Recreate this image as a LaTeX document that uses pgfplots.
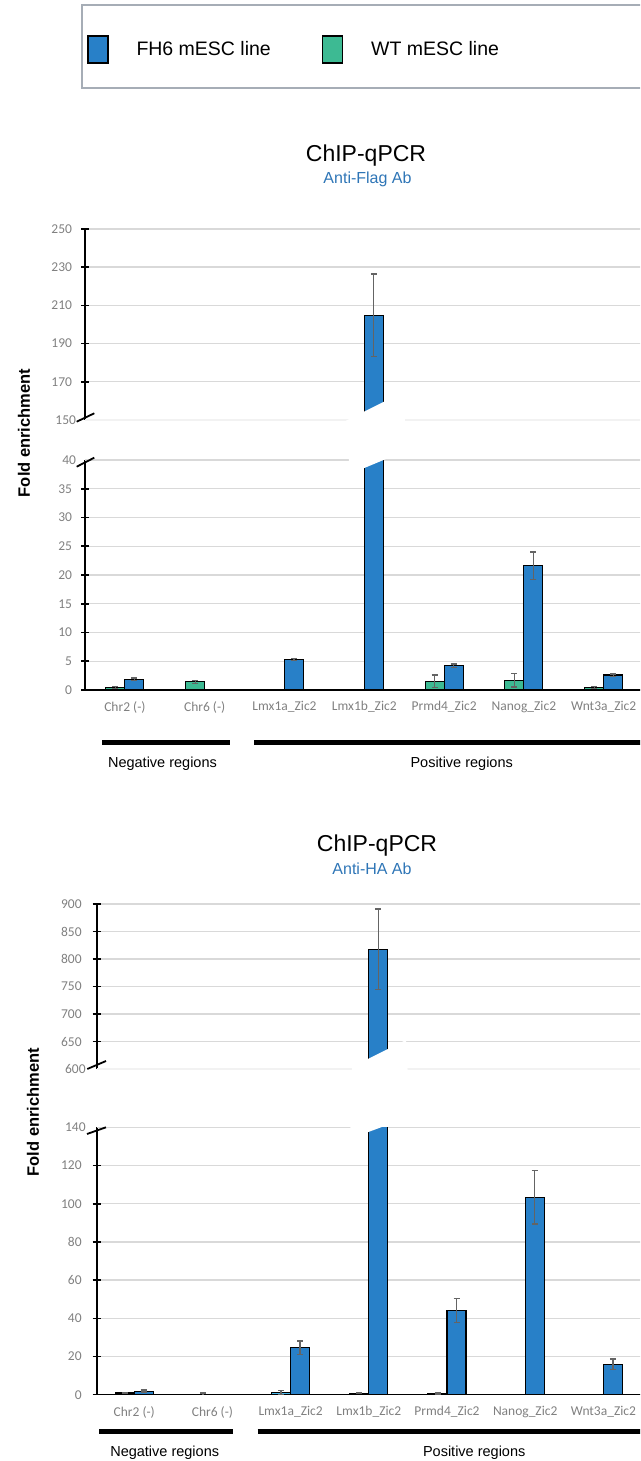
\documentclass[border=0pt]{standalone}
\usepackage{pgfplots}
\pgfplotsset{compat=1.18}
\usepackage{fontspec}
\setmainfont{Liberation Sans}
\newfontfamily\carlito{Carlito}
\definecolor{fhblue}{RGB}{40,128,200}
\definecolor{wtgreen}{RGB}{61,186,147}
\definecolor{wtcyan}{RGB}{70,182,232}
\definecolor{gridgray}{RGB}{217,217,217}
\definecolor{tickgray}{RGB}{128,128,128}
\definecolor{errgray}{RGB}{100,100,100}
\definecolor{subblue}{RGB}{46,117,182}
\definecolor{legendgray}{RGB}{166,173,182}
\pgfplotsset{
  brk/.style={
    scale only axis, anchor=south west,
    enlargelimits=false,
    axis y line*=left,
    tick align=center, major tick length=8pt,
    ytick style={black,line width=1.6pt},
    xtick style={draw=none},
    axis line style={black,line width=1.6pt},
    ymajorgrids, grid style={gridgray,line width=1.4pt},
    extra y tick style={grid=major, major tick length=0pt},
    yticklabel style={font=\carlito\fontsize{13.5}{14}\selectfont, text=tickgray, xshift=-5.5pt},
    xticklabel style={font=\carlito\fontsize{13.5}{14}\selectfont, text=tickgray},
    /pgf/number format/assume math mode=true,
    ybar, bar width=19pt,
    error bars/error bar style={errgray, line width=1.3pt},
    error bars/error mark options={rotate=90, mark size=3pt, errgray, line width=1.3pt},
  },
  wt/.style={fill=#1, draw=black, line width=1.1pt, bar shift=-9.5pt,
    error bars/y dir=both, error bars/y explicit},
  fh/.style={fill=fhblue, draw=black, line width=1.1pt, bar shift=9.5pt,
    error bars/y dir=both, error bars/y explicit},
}
\begin{document}
\begin{tikzpicture}[x=1pt,y=1pt]
\useasboundingbox (0,0) rectangle (640,1461);
\clip (0,0) rectangle (640,1461);

% legend frame
\draw[legendgray, line width=2pt] (82,1456) rectangle (662,1373);

% ---------- Chart 1 ----------
\node[anchor=base, font=\fontsize{23}{26}\selectfont] at (366,1299.3) {ChIP-qPCR};
\node[anchor=base, font=\fontsize{16}{18}\selectfont, text=subblue] at (367.5,1277.7) {Anti-Flag Ab};
\node[rotate=90, font=\bfseries\fontsize{16.5}{20}\selectfont] at (24,1028) {Fold enrichment};

\begin{axis}[brk, at={(85pt,1041pt)},
  x=79.8pt, y=1.91pt, xmin=-0.5, xmax=6.5, ymin=150, ymax=250,
  axis x line=none, xtick=\empty,
  ytick={170,190,...,250}, extra y ticks={150},
  extra y tick style={grid style={gridgray!35, line width=1.2pt}},
  legend columns=2,
  legend image code/.code={\draw[#1, draw=black, line width=1.3pt] (0pt,-13.5pt) rectangle (20pt,13.5pt);},
  legend style={at={(axis description cs:0.00358,1.94)}, anchor=west, draw=none, fill=none,
    inner sep=0pt, font=\fontsize{19.5}{22}\selectfont, nodes={inner sep=0pt},
    /tikz/every odd column/.append style={column sep=28pt},
    /tikz/every even column/.append style={column sep=51pt}},
  legend cell align=left,
]
\addlegendimage{fill=fhblue}
\addlegendentry{FH6 mESC line}
\addlegendimage{fill=wtgreen}
\addlegendentry{WT mESC line}
% only the value that reaches the upper segment
\addplot[forget plot, fh] coordinates {(3,204.8) +- (0,21.7)};
\end{axis}

\begin{axis}[brk, at={(85pt,771pt)},
  x=79.8pt, y=5.75pt, xmin=-0.5, xmax=6.5, ymin=0, ymax=40,
  axis x line*=bottom,
  ytick={0,5,...,35}, extra y ticks={40},
  xtick={0,...,6},
  xticklabels={Chr2 (-),Chr6 (-),Lmx1a\_Zic2,Lmx1b\_Zic2,Prmd4\_Zic2,Nanog\_Zic2,Wnt3a\_Zic2},
]
\addplot[wt=wtgreen] coordinates {
  (0,0.4) +- (0,0.2)  (1,1.4) +- (0,0.3)  (4,1.5) +- (0,1.1)  (5,1.7) +- (0,1.2)  (6,0.4) +- (0,0.15)};
\addplot[fh] coordinates {
  (0,1.9) +- (0,0.2)  (2,5.3) +- (0,0.2)  (3,204.8) +- (0,21.7)  (4,4.2) +- (0,0.3)  (5,21.6) +- (0,2.4)  (6,2.6) +- (0,0.2)};
\end{axis}

% break cover and marks chart 1
\fill[white] (346,1040.3) -- (402,1068.3) -- (408,1011.2) -- (350,987) -- cycle;
\draw[black, line width=1.8pt] (76.7,1039.3) -- (94.3,1047.7);
\draw[black, line width=1.8pt] (76.7,994.3) -- (94.3,1003.3);

\draw[line width=4.5pt] (102,718.3) -- (230,718.3);
\draw[line width=4.5pt] (254,718.3) -- (660,718.3);
\node[anchor=base, font=\fontsize{14.5}{17}\selectfont] at (162.5,693) {Negative regions};
\node[anchor=base, font=\fontsize{14.5}{17}\selectfont] at (461.7,693) {Positive regions};

% ---------- Chart 2 ----------
\node[anchor=base, font=\fontsize{23}{26}\selectfont] at (377,609) {ChIP-qPCR};
\node[anchor=base, font=\fontsize{16}{18}\selectfont, text=subblue] at (372,586) {Anti-HA Ab};
\node[rotate=90, font=\bfseries\fontsize{16.5}{20}\selectfont] at (33,349) {Fold enrichment};

\begin{axis}[brk, at={(96.7pt,392pt)},
  x=78.2pt, y=0.55pt, xmin=-0.48, xmax=6.5, ymin=600, ymax=900,
  axis x line=none, xtick=\empty,
  ytick={650,700,...,900}, extra y ticks={600},
  extra y tick style={grid style={gridgray!35, line width=1.2pt}},
  yticklabel style={xshift=-2pt},
]
% only the value that reaches the upper segment
\addplot[fh] coordinates {(3,818) +- (0,73)};
\end{axis}

\begin{axis}[brk, at={(96.7pt,66.3pt)},
  x=78.2pt, y=1.909pt, xmin=-0.48, xmax=6.5, ymin=0, ymax=140,
  axis x line*=bottom,
  ytick={0,20,...,120}, extra y ticks={140},
  yticklabel style={xshift=-2pt},
  xtick={0,...,6},
  xticklabels={Chr2 (-),Chr6 (-),Lmx1a\_Zic2,Lmx1b\_Zic2,Prmd4\_Zic2,Nanog\_Zic2,Wnt3a\_Zic2},
]
\addplot[wt=wtcyan] coordinates {
  (0,0.9) +- (0,0.3)  (1,0.3) +- (0,0.6)  (2,1.2) +- (0,1.0)  (3,0.8) +- (0,0.3)  (4,0.7) +- (0,0.3)};
\addplot[fh] coordinates {
  (0,1.9) +- (0,0.5)  (2,24.6) +- (0,3.5)  (3,818) +- (0,73)  (4,44) +- (0,6.3)  (5,103.4) +- (0,14)  (6,15.9) +- (0,2.8)};
\end{axis}

\fill[white] (352,394) -- (406,421) -- (410,344.4) -- (350,322.2) -- cycle;
\draw[black, line width=1.8pt] (87.3,392) -- (106,400);
\draw[black, line width=1.8pt] (87,327) -- (106,333.7);

\draw[line width=4.5pt] (99,29.3) -- (232.7,29.3);
\draw[line width=4.5pt] (257.7,29.3) -- (660,29.3);
\node[anchor=base, font=\fontsize{14.5}{17}\selectfont] at (164.7,4.7) {Negative regions};
\node[anchor=base, font=\fontsize{14.5}{17}\selectfont] at (474.2,4.7) {Positive regions};
\end{tikzpicture}
\end{document}
